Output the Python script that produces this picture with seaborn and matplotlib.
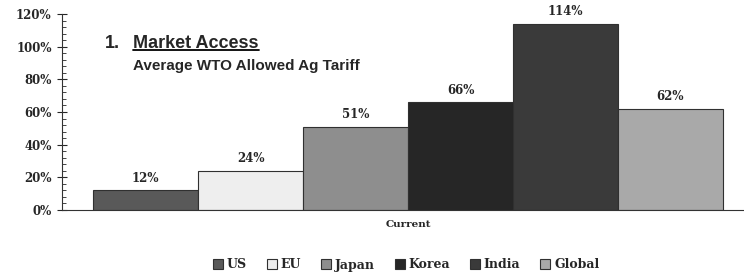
import pandas as pd
import matplotlib.pyplot as plt
import seaborn as sns
from matplotlib.ticker import MultipleLocator, PercentFormatter
from matplotlib.lines import Line2D

# données
regions = ['US', 'EU', 'Japan', 'Korea', 'India', 'Global']
tariffs = [12, 24, 51, 66, 114, 62]
period = ['Current'] * len(regions)
colors = ['#595959', '#eeeeee', '#8e8e8e', '#262626', '#3a3a3a', '#a9a9a9']

df = pd.DataFrame({'period': period, 'region': regions, 'tariff': tariffs})

sns.set_style('white')
plt.rcParams['font.family'] = ['DejaVu Serif']

fig = plt.figure(figsize=(7.44, 2.75), dpi=100)
ax = fig.add_axes([62 / 744, 1 - 210 / 275, 692 / 744, (210 - 14) / 275])

sns.barplot(data=df, x='period', y='tariff', hue='region', palette=colors,
            width=0.91, edgecolor='#303030', linewidth=0.8, ax=ax, legend=True)

for c in ax.containers:
    ax.bar_label(c, fmt='%g%%', padding=4, fontsize=8.5, fontweight='bold')

ax.set_ylim(0, 120)
ax.yaxis.set_major_locator(MultipleLocator(20))
ax.yaxis.set_minor_locator(MultipleLocator(4))
ax.yaxis.set_major_formatter(PercentFormatter(decimals=0))
ax.tick_params(axis='y', which='major', left=True, direction='inout', length=7,
               width=0.8, labelsize=8.5, pad=4)
ax.tick_params(axis='y', which='minor', left=True, direction='in', length=3, width=0.6)
for lab in ax.get_yticklabels():
    lab.set_fontweight('bold')
ax.tick_params(axis='x', length=0, labelsize=7.5, pad=7)
for lab in ax.get_xticklabels():
    lab.set_fontweight('bold')
ax.set_xlabel('')
ax.set_ylabel('')
sns.despine(ax=ax)
for s in ['left', 'bottom']:
    ax.spines[s].set_color('#333333')
    ax.spines[s].set_linewidth(0.8)

# titre
ax.text(0.062, 0.827, '1.', transform=ax.transAxes, fontsize=13, fontweight='bold',
        family='Liberation Sans', va='baseline')
t = ax.text(0.103, 0.827, 'Market Access', transform=ax.transAxes, fontsize=13,
            fontweight='bold', family='Liberation Sans', va='baseline')
ax.text(0.103, 0.715, 'Average WTO Allowed Ag Tariff', transform=ax.transAxes,
        fontsize=11, fontweight='bold', family='Liberation Sans', va='baseline')

# souligner "Market Access"
fig.canvas.draw()
bb = t.get_window_extent().transformed(fig.transFigure.inverted())
y_u = bb.y0 + 0.006
fig.add_artist(Line2D([bb.x0, bb.x1], [y_u, y_u], transform=fig.transFigure,
                      color='black', linewidth=1.3))

# légende
handles, labels = ax.get_legend_handles_labels()
ax.get_legend().remove()
fig.legend(handles, labels, loc='center', bbox_to_anchor=(406 / 744, 1 - 265 / 275),
           ncol=6, frameon=False, handlelength=0.8, handleheight=0.8,
           handletextpad=0.3, columnspacing=1.6,
           prop={'family': 'DejaVu Serif', 'weight': 'bold', 'size': 9})

plt.savefig('out.png', dpi=100)
